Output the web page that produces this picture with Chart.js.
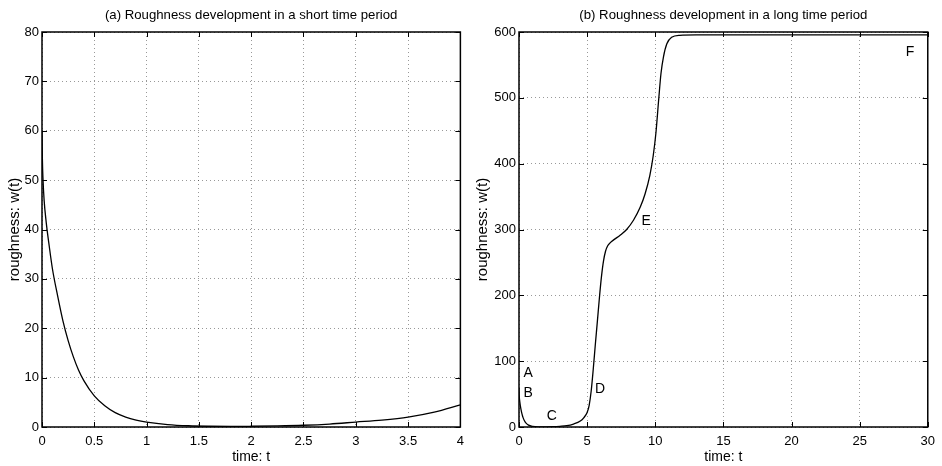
<!DOCTYPE html>
<html>
<head>
<meta charset="utf-8">
<script src="https://cdn.jsdelivr.net/npm/chart.js@4.4.0/dist/chart.umd.min.js"></script>
<style>
  html, body { margin: 0; padding: 0; background: #fff; overflow: hidden; }
  .panel { position: absolute; top: 0; height: 466px; width: 471px; }
  #leftWrap { left: 0; }
  #rightWrap { left: 471px; }
</style>
</head>
<body>
<div class="panel" id="leftWrap"><canvas id="leftChart"></canvas></div>
<div class="panel" id="rightWrap"><canvas id="rightChart"></canvas></div>
<script>
// ---- Data: panel (a), short time period ----
const leftTitle = '(a) Roughness development in a short time period';
const leftT = [0, 0.004, 0.01, 0.02, 0.04, 0.07, 0.1, 0.15, 0.2, 0.25, 0.3, 0.35, 0.4, 0.5, 0.6, 0.7, 0.8, 0.9, 1.0, 1.2, 1.4, 1.6, 1.8, 2.0, 2.25, 2.5, 2.75, 3.0, 3.25, 3.5, 3.75, 4.0];
const leftW = [60, 54, 50, 46, 41.5, 36.5, 32, 26.5, 21.5, 17.5, 14.2, 11.5, 9.4, 6.3, 4.3, 2.9, 2.0, 1.4, 1.0, 0.5, 0.25, 0.15, 0.12, 0.15, 0.22, 0.35, 0.6, 1.0, 1.4, 2.0, 3.0, 4.5];
const leftXTicks = [0, 0.5, 1, 1.5, 2, 2.5, 3, 3.5, 4];
const leftYTicks = [0, 10, 20, 30, 40, 50, 60, 70, 80];

// ---- Data: panel (b), long time period ----
const rightTitle = '(b) Roughness development in a long time period';
const rightT = [0, 0.004, 0.01, 0.02, 0.04, 0.07, 0.1, 0.15, 0.2, 0.25, 0.3, 0.4, 0.5, 0.7, 1.0, 1.4, 2.0, 2.5, 3.0, 3.5, 4.0, 4.5, 4.75, 5.0, 5.15, 5.3, 5.45, 5.6, 5.75, 5.9, 6.05, 6.2, 6.35, 6.5, 6.7, 7.0, 7.4, 7.9, 8.4, 8.9, 9.25, 9.6, 9.85, 10.05, 10.25, 10.42, 10.6, 10.85, 11.2, 11.8, 13, 20, 30];
const rightW = [60, 54, 50, 46, 41.5, 36.5, 32, 26.5, 21.5, 17.5, 14.2, 9.4, 6.3, 2.9, 1.0, 0.25, 0.15, 0.35, 1.0, 2.0, 4.5, 9, 14, 22, 33, 55, 88, 125, 160, 196, 228, 252, 267, 275, 280, 285, 291, 300, 314, 334, 354, 382, 412, 447, 497, 537, 562, 582, 592, 595, 595.5, 595.5, 595.5];
const rightXTicks = [0, 5, 10, 15, 20, 25, 30];
const rightYTicks = [0, 100, 200, 300, 400, 500, 600];
const rightLetters = ['A', 'B', 'C', 'D', 'E', 'F'];
const rightLetterT = [0.68, 0.68, 2.4, 5.94, 9.33, 28.7];
const rightLetterW = [82, 52, 17, 57, 313, 570];

const xAxisLabel = 'time: t';
const yAxisLabel = 'roughness: w(t)';

const FONT = '"Liberation Sans", Arial, Helvetica, sans-serif';

const framePlugin = {
  id: 'frame',
  afterDatasetsDraw(chart) {
    const { ctx, chartArea: a, scales } = chart;
    const x = scales.x, y = scales.y;
    ctx.save();
    ctx.setLineDash([]);
    ctx.strokeStyle = '#000';
    ctx.lineWidth = 1.5;
    ctx.strokeRect(a.left, a.top, a.right - a.left, a.bottom - a.top);
    ctx.lineWidth = 1;
    const tl = 5;
    ctx.beginPath();
    x.ticks.forEach(t => {
      const px = Math.round(x.getPixelForValue(t.value)) + 0.5;
      ctx.moveTo(px, a.bottom); ctx.lineTo(px, a.bottom - tl);
      ctx.moveTo(px, a.top); ctx.lineTo(px, a.top + tl);
    });
    y.ticks.forEach(t => {
      const py = Math.round(y.getPixelForValue(t.value)) + 0.5;
      ctx.moveTo(a.left, py); ctx.lineTo(a.left + tl, py);
      ctx.moveTo(a.right, py); ctx.lineTo(a.right - tl, py);
    });
    ctx.stroke();
    const opts = chart.options.plugins.frame || {};
    if (opts.title) {
      ctx.fillStyle = '#000';
      ctx.font = '13.2px ' + FONT;
      ctx.textAlign = 'center';
      ctx.textBaseline = 'middle';
      ctx.fillText(opts.title, (a.left + a.right) / 2, a.top - 17);
    }
    if (opts.letters) {
      ctx.fillStyle = '#000';
      ctx.font = '14px ' + FONT;
      ctx.textAlign = 'center';
      ctx.textBaseline = 'middle';
      opts.letters.forEach((txt, i) => {
        ctx.fillText(txt, x.getPixelForValue(opts.letterT[i]), y.getPixelForValue(opts.letterW[i]));
      });
    }
    ctx.restore();
  }
};

function makeChart(id, tArr, wArr, xTicks, yTicks, title, yAxisWidth, padRight, yTitlePad, letters, letterT, letterW) {
  const points = tArr.map((t, i) => ({ x: t, y: wArr[i] }));
  return new Chart(document.getElementById(id), {
    type: 'line',
    data: {
      datasets: [{
        data: points,
        borderColor: '#000',
        borderWidth: 1.3,
        pointRadius: 0,
        fill: false,
        cubicInterpolationMode: 'monotone'
      }]
    },
    options: {
      responsive: true,
      maintainAspectRatio: false,
      animation: false,
      layout: { padding: { top: 32, right: padRight, left: 0, bottom: 0 } },
      plugins: {
        legend: { display: false },
        tooltip: { enabled: false },
        title: { display: false },
        frame: { title: title, letters: letters, letterT: letterT, letterW: letterW }
      },
      scales: {
        x: {
          type: 'linear',
          min: xTicks[0],
          max: xTicks[xTicks.length - 1],
          afterBuildTicks: s => { s.ticks = xTicks.map(v => ({ value: v })); },
          afterFit: s => { s.height = 39; },
          ticks: { color: '#000', font: { family: FONT, size: 13 }, padding: 7, maxRotation: 0, autoSkip: false, callback: v => String(v) },
          grid: { color: 'rgba(0,0,0,0.4)', lineWidth: 1, drawTicks: false },
          border: { display: false, dash: [1, 3] },
          title: { display: true, text: xAxisLabel, color: '#000', font: { family: FONT, size: 14 }, padding: { top: 0.6, bottom: 0 } }
        },
        y: {
          type: 'linear',
          min: yTicks[0],
          max: yTicks[yTicks.length - 1],
          afterBuildTicks: s => { s.ticks = yTicks.map(v => ({ value: v })); },
          afterFit: s => { s.width = yAxisWidth; },
          ticks: { color: '#000', font: { family: FONT, size: 13 }, padding: 3, autoSkip: false, callback: v => String(v) },
          grid: { color: 'rgba(0,0,0,0.4)', lineWidth: 1, drawTicks: false },
          border: { display: false, dash: [1, 3] },
          title: { display: true, text: yAxisLabel, color: '#000', font: { family: FONT, size: 15 }, padding: { top: yTitlePad, bottom: 0 } }
        }
      }
    },
    plugins: [framePlugin]
  });
}

makeChart('leftChart', leftT, leftW, leftXTicks, leftYTicks, leftTitle, 42, 9, 6, null, null, null);
makeChart('rightChart', rightT, rightW, rightXTicks, rightYTicks, rightTitle, 48, 14, 3, rightLetters, rightLetterT, rightLetterW);
</script>
</body>
</html>
